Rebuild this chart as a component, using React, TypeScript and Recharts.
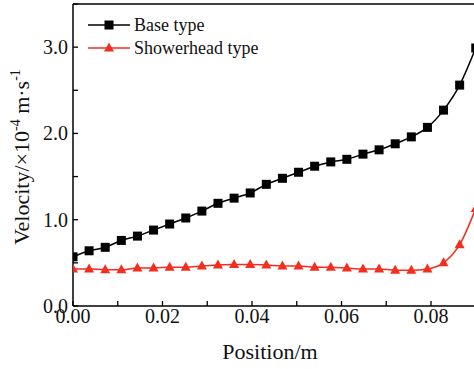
import { LineChart, Line, XAxis, YAxis, ReferenceLine } from "recharts";

const positions = [
  0, 0.0036, 0.0072, 0.0108, 0.0144, 0.018, 0.0216, 0.0252, 0.0288, 0.0324, 0.036, 0.0396, 0.0432,
  0.0468, 0.0504, 0.054, 0.0576, 0.0612, 0.0648, 0.0684, 0.072, 0.0756, 0.0792, 0.0828, 0.0864, 0.09,
];
const baseType = [
  0.57, 0.64, 0.68, 0.76, 0.81, 0.88, 0.95, 1.02, 1.1, 1.19, 1.25, 1.31, 1.41, 1.48, 1.55, 1.62, 1.67,
  1.7, 1.76, 1.81, 1.88, 1.96, 2.07, 2.27, 2.56, 2.99,
];
const showerheadType = [
  0.43, 0.43, 0.42, 0.42, 0.44, 0.44, 0.45, 0.45, 0.465, 0.475, 0.48, 0.48, 0.475, 0.465, 0.465, 0.45,
  0.45, 0.44, 0.43, 0.43, 0.415, 0.415, 0.43, 0.5, 0.71, 1.13,
];
const xTicks = [0, 0.01, 0.02, 0.03, 0.04, 0.05, 0.06, 0.07, 0.08, 0.09, 0.1];
const yTicks = [0, 0.5, 1, 1.5, 2, 2.5, 3, 3.5];

const data = positions.map((p, i) => ({ pos: p, base: baseType[i], shower: showerheadType[i] }));

const FONT = "'Liberation Serif', 'Times New Roman', serif";
const RED = "#f52d1e";

const XTick = ({ x, y, payload }: any) => {
  const v = payload.value;
  const major = Math.round(v * 100) % 2 === 0 && v < 0.095;
  return (
    <g>
      <line x1={x} y1={y} x2={x} y2={y - 5} stroke="#000" strokeWidth={1.3} />
      {major && (
        <text x={x} y={y + 17} textAnchor="middle" fontSize={20} fill="#111" fontFamily={FONT}>
          {v.toFixed(2)}
        </text>
      )}
    </g>
  );
};

const YTick = ({ x, y, payload }: any) => {
  const v = payload.value;
  const major = Number.isInteger(v);
  return (
    <g>
      <line x1={x} y1={y} x2={x + 5} y2={y} stroke="#000" strokeWidth={1.3} />
      {major && (
        <text x={x - 5} y={y + 7} textAnchor="end" fontSize={20} fill="#111" fontFamily={FONT}>
          {v.toFixed(1)}
        </text>
      )}
    </g>
  );
};

const squareDot = (props: any) => {
  const { cx, cy, index } = props;
  return <rect key={`s${index}`} x={cx - 4.5} y={cy - 4.5} width={9} height={9} fill="#000" />;
};

const triangleDot = (props: any) => {
  const { cx, cy, index } = props;
  return (
    <polygon
      key={`t${index}`}
      points={`${cx},${cy - 5.5} ${cx + 5},${cy + 3.5} ${cx - 5},${cy + 3.5}`}
      fill={RED}
    />
  );
};

const labelStyle = {
  position: "absolute" as const,
  fontSize: 18,
  lineHeight: "22px",
  color: "#111",
  whiteSpace: "nowrap" as const,
};

export default function App() {
  return (
    <div
      style={{
        position: "absolute",
        left: 0,
        top: 0,
        width: 474,
        height: 369,
        overflow: "hidden",
        background: "#fff",
        fontFamily: FONT,
      }}
    >
      <LineChart width={540} height={369} data={data} margin={{ top: 4, right: 19.5, bottom: 0, left: 0 }}>
        <XAxis
          dataKey="pos"
          type="number"
          domain={[0, 0.1]}
          ticks={xTicks}
          interval={0}
          tickSize={0}
          tickMargin={0}
          tickLine={false}
          tick={<XTick />}
          height={63}
          axisLine={{ stroke: "#000", strokeWidth: 1.5 }}
          allowDataOverflow
        />
        <YAxis
          type="number"
          domain={[0, 3.5]}
          ticks={yTicks}
          interval={0}
          tickSize={0}
          tickMargin={0}
          tickLine={false}
          tick={<YTick />}
          width={73}
          axisLine={{ stroke: "#000", strokeWidth: 1.5 }}
          allowDataOverflow
        />
        <ReferenceLine y={3.5} stroke="#000" strokeWidth={1.5} />
        <Line
          type="monotone"
          dataKey="shower"
          stroke={RED}
          strokeWidth={1.5}
          dot={triangleDot}
          isAnimationActive={false}
        />
        <Line
          type="monotone"
          dataKey="base"
          stroke="#000"
          strokeWidth={1.5}
          dot={squareDot}
          isAnimationActive={false}
        />
      </LineChart>

      {/* legend */}
      <svg width={46} height={60} style={{ position: "absolute", left: 86, top: 0 }}>
        <line x1={2} y1={25} x2={44} y2={25} stroke="#000" strokeWidth={1.5} />
        <rect x={18.5} y={20.5} width={9} height={9} fill="#000" />
        <line x1={2} y1={48} x2={44} y2={48} stroke={RED} strokeWidth={1.5} />
        <polygon points="23,42.5 28,51.5 18,51.5" fill={RED} />
      </svg>
      <div style={{ ...labelStyle, left: 134, top: 14 }}>Base type</div>
      <div style={{ ...labelStyle, left: 134, top: 37 }}>Showerhead type</div>

      <div
        style={{
          position: "absolute",
          left: 270,
          top: 352,
          transform: "translate(-50%, -50%)",
          fontSize: 22,
          lineHeight: 1,
          color: "#111",
          whiteSpace: "nowrap",
        }}
      >
        Position/m
      </div>
      <div
        style={{
          position: "absolute",
          left: 21,
          top: 157,
          transform: "translate(-50%, -50%) rotate(-90deg)",
          fontSize: 22,
          lineHeight: 1,
          color: "#111",
          whiteSpace: "nowrap",
        }}
      >
        Velocity/×10<sup style={{ fontSize: 14, verticalAlign: "9px" }}>-4</sup> m·s
        <sup style={{ fontSize: 14, verticalAlign: "9px" }}>-1</sup>
      </div>
    </div>
  );
}
